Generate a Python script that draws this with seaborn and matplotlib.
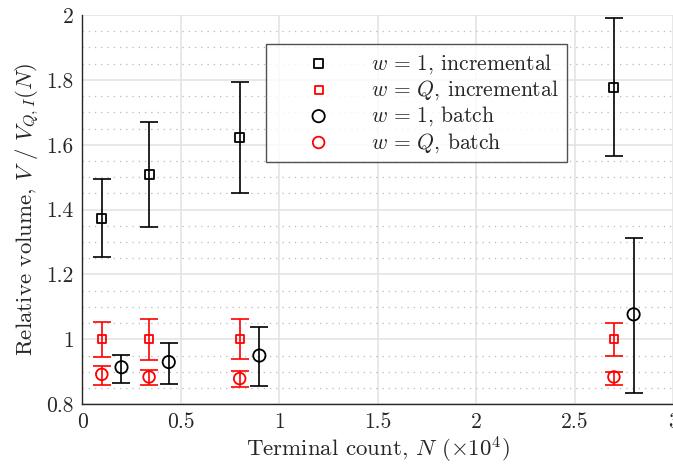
import numpy as np
import pandas as pd
import seaborn as sns
import matplotlib.pyplot as plt
from matplotlib.ticker import FuncFormatter, MultipleLocator

# terminal counts (x 10^4)
n_inc = [0.1, 0.34, 0.8, 2.7]
n_batch = [0.2, 0.44, 0.9, 2.8]

# w = 1, incremental
w1_inc = [1.374, 1.508, 1.621, 1.776]
w1_inc_lo = [1.254, 1.347, 1.451, 1.565]
w1_inc_hi = [1.494, 1.669, 1.792, 1.990]

# w = Q, incremental
wq_inc = [1.0, 1.0, 1.0, 1.0]
wq_inc_lo = [0.947, 0.937, 0.940, 0.950]
wq_inc_hi = [1.053, 1.062, 1.062, 1.050]

# w = 1, batch
w1_bat = [0.914, 0.930, 0.950, 1.077]
w1_bat_lo = [0.865, 0.861, 0.857, 0.834]
w1_bat_hi = [0.953, 0.989, 1.038, 1.314]

# w = Q, batch
wq_bat = [0.892, 0.884, 0.879, 0.884]
wq_bat_lo = [0.858, 0.858, 0.853, 0.858]
wq_bat_hi = [0.917, 0.904, 0.901, 0.899]

sns.set_style("white")
plt.rcParams["font.family"] = "serif"
plt.rcParams["font.serif"] = ["cmr10", "DejaVu Serif"]
plt.rcParams["mathtext.fontset"] = "cm"
plt.rcParams["axes.formatter.use_mathtext"] = True

fig = plt.figure(figsize=(6.73, 4.70), dpi=100)
ax = fig.add_axes([0.122, 0.140, 0.878, 0.828])

series = [
    (r"$w\,=\,1$, incremental", n_inc, w1_inc, w1_inc_lo, w1_inc_hi, "black", "s", 42),
    (r"$w\,=\,Q$, incremental", n_inc, wq_inc, wq_inc_lo, wq_inc_hi, "red", "s", 32),
    (r"$w\,=\,1$, batch", n_batch, w1_bat, w1_bat_lo, w1_bat_hi, "black", "o", 78),
    (r"$w\,=\,Q$, batch", n_inc, wq_bat, wq_bat_lo, wq_bat_hi, "red", "o", 70),
]

for label, xs, ys, lo, hi, col, mk, sz in series:
    ys = np.array(ys)
    err = [ys - np.array(lo), np.array(hi) - ys]
    ax.errorbar(xs, ys, yerr=err, fmt="none", ecolor=col, elinewidth=1.2,
                capsize=6.5, capthick=1.2, zorder=2)
    df = pd.DataFrame({"N": xs, "V": ys})
    sns.scatterplot(data=df, x="N", y="V", marker=mk, s=sz, fc="none", ec=col,
                    linewidth=1.3, label=label, ax=ax, zorder=3)

ax.set_xlim(0, 3)
ax.set_ylim(0.8, 2)
ax.xaxis.set_major_locator(MultipleLocator(0.5))
ax.yaxis.set_major_locator(MultipleLocator(0.2))
ax.yaxis.set_minor_locator(MultipleLocator(0.05))
fmt = FuncFormatter(lambda v, p: f"{v:g}")
ax.xaxis.set_major_formatter(fmt)
ax.yaxis.set_major_formatter(fmt)

ax.grid(True, which="major", color="#e2e2e2", linewidth=1.1)
ax.grid(True, which="minor", axis="y", color="#b8b8b8", linestyle=(0, (1, 4)), linewidth=0.9)
ax.set_axisbelow(True)

for s in ["top", "right"]:
    ax.spines[s].set_visible(False)
for s in ["left", "bottom"]:
    ax.spines[s].set_color("#262626")
    ax.spines[s].set_linewidth(1.0)

ax.tick_params(axis="both", which="major", direction="in", length=5, width=1,
               labelsize=15.5, colors="#262626", pad=6)
ax.tick_params(axis="both", which="minor", length=0)

ax.set_xlabel(r"Terminal count, $N$ $(\times10^4)$", fontsize=16.5, color="#262626", labelpad=2)
ax.set_ylabel(r"Relative volume, $V$ / $V_{Q,I}(N)$", fontsize=16.5, color="#262626", labelpad=4)

leg = ax.legend(loc="upper left", bbox_to_anchor=(0.311, 0.925), fontsize=15.5,
                frameon=True, fancybox=False, edgecolor="#262626",
                handletextpad=0.35, borderpad=0.35, labelspacing=0.12,
                handlelength=4.2, borderaxespad=0)
leg.get_frame().set_linewidth(1.0)

fig.savefig("out.png", dpi=100)
